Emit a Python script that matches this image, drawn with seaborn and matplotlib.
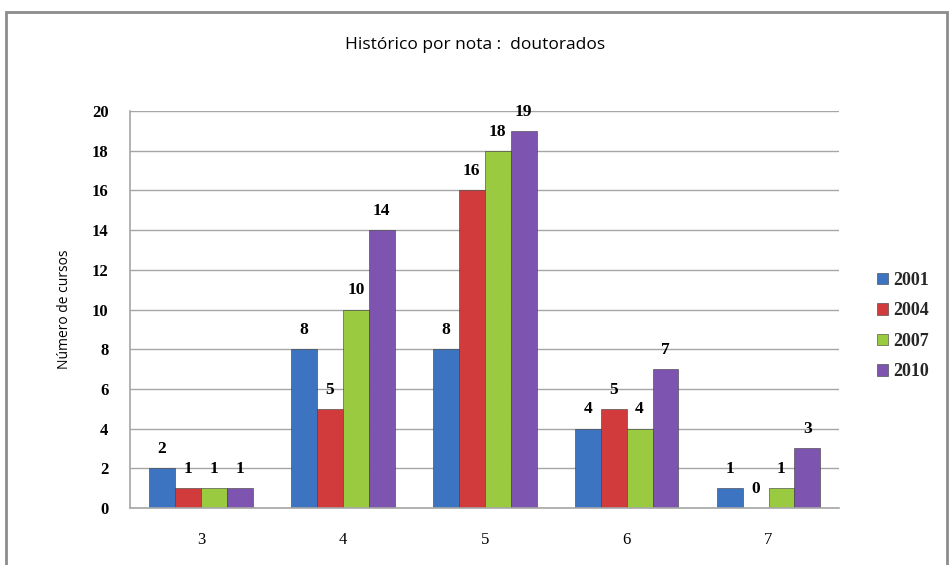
import pandas as pd
import matplotlib.pyplot as plt
import seaborn as sns
from matplotlib.patches import Rectangle

# Data
notas = ["3", "4", "5", "6", "7"]
anos = ["2001", "2004", "2007", "2010"]
v2001 = [2, 8, 8, 4, 1]
v2004 = [1, 5, 16, 5, 0]
v2007 = [1, 10, 18, 4, 1]
v2010 = [1, 14, 19, 7, 3]

cores = ["#3d74c2", "#d23b3b", "#9aca40", "#7d55b0"]

df = pd.DataFrame({
    "nota": notas * 4,
    "ano": [a for a in anos for _ in notas],
    "cursos": v2001 + v2004 + v2007 + v2010,
})

sns.set_style("white")

fig = plt.figure(figsize=(9.51, 5.65), dpi=100)
ax = fig.add_axes([0.1367, 0.1009, 0.746, 0.7026])

sns.barplot(data=df, x="nota", y="cursos", hue="ano", palette=cores,
            saturation=1, width=0.73, gap=0, ax=ax, edgecolor="#3a3a3a",
            linewidth=0.4, legend=True)

for container in ax.containers:
    ax.bar_label(container, padding=8, fontsize=12.5, fontweight="bold",
                 family="Liberation Serif", color="black")

ax.set_ylim(0, 20)
ax.set_xlim(-0.5, 4.5)
ax.set_yticks(range(0, 21, 2))
ax.yaxis.grid(True, color="#a6a6a6", linewidth=1)
ax.set_axisbelow(True)
for side in ["top", "right"]:
    ax.spines[side].set_visible(False)
for side in ["left", "bottom"]:
    ax.spines[side].set_color("#a6a6a6")
    ax.spines[side].set_linewidth(1.2)

ax.tick_params(axis="x", labelsize=12, pad=14, labelcolor="black")
ax.tick_params(axis="y", labelsize=12, pad=12, labelcolor="black")
for t in ax.get_yticklabels():
    t.set_family("Liberation Serif")
    t.set_fontweight("bold")
for t in ax.get_xticklabels():
    t.set_family("Liberation Serif")

ax.set_xlabel("")
ax.set_ylabel("Número de cursos", fontsize=10, family="Open Sans",
              labelpad=14, color="black")

fig.text(0.5, 0.92, "Histórico por nota :  doutorados", ha="center",
         va="center", fontsize=12.5, family="Open Sans", color="black")

leg = ax.legend(loc="center left", bbox_to_anchor=(1.03, 0.458), frameon=False,
                handlelength=0.6, handleheight=0.6, labelspacing=0.75,
                handletextpad=0.3,
                prop={"family": "Liberation Serif", "weight": "bold", "size": 13})

fig.patches.append(Rectangle((0.006, -0.01), 0.99, 0.989, transform=fig.transFigure,
                             fill=False, edgecolor="#8c8c8c", linewidth=2))

fig.savefig("out.png", dpi=100)
